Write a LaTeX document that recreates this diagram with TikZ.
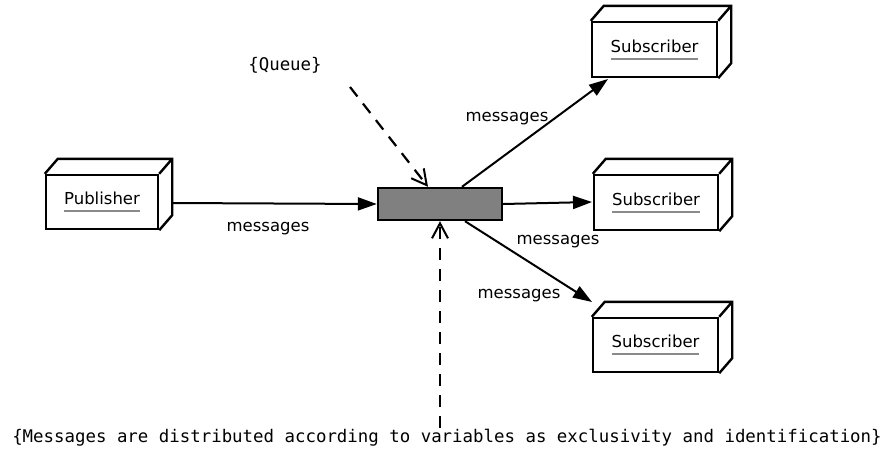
\documentclass[tikz,border=0pt]{standalone}
\usepackage{fontspec}
\setmainfont{DejaVu Sans}
\newfontfamily\monofont{DejaVu Sans Mono}
\usetikzlibrary{arrows.meta}
\definecolor{queuegray}{HTML}{808080}
\definecolor{ulgray}{HTML}{8A8A8A}
% text with a gray underline drawn below the baseline
\newcommand\grayul[1]{\setbox0\hbox{#1}\rlap{\color{ulgray}\rule[-7.5pt]{\wd0}{2pt}}\box0}
\tikzset{
  nodebox/.style={draw, line width=2.4pt, fill=white, inner sep=0pt,
    minimum width=124pt, minimum height=55pt,
    font=\fontsize{16.5}{20}\selectfont},
  queuebox/.style={draw, line width=2.4pt, fill=queuegray, inner sep=0pt,
    minimum width=124pt, minimum height=32pt},
  msg/.style={-{Triangle[length=19pt,width=13pt]}, line width=2pt},
  dep/.style={-{Straight Barb[length=15pt,width=16pt,line width=2pt]},
    line width=2.2pt, dash pattern=on 12pt off 9pt},
  lbl/.style={font=\fontsize{16.5}{20}\selectfont, inner sep=0pt},
  note/.style={font=\monofont\fontsize{17.4}{20}\selectfont, inner sep=0pt},
}
% draws the top and right faces of a box node
\newcommand\depthfaces[1]{%
  \draw[line width=2.4pt, line join=miter]
    (#1.north west) -- ++(13,-15) -- ([shift={(13,-15)}]#1.north east)
    -- ([shift={(13,-15)}]#1.south east) -- (#1.south east)
    (#1.north east) -- ++(13,-15);}
\begin{document}
\begin{tikzpicture}[x=1pt,y=-1pt]
\useasboundingbox (0,0) rectangle (883,458);

% nodes
\node[nodebox, minimum width=112pt, minimum height=54pt] (pub) at (102,202) {\grayul{Publisher}};
\node[nodebox, minimum width=125pt] (sub1) at (654.5,49.5) {\grayul{Subscriber}};
\node[nodebox] (sub2) at (656,202.5) {\grayul{Subscriber}};
\node[nodebox, minimum width=125pt, minimum height=54pt] (sub3) at (655.5,345) {\grayul{Subscriber}};
\depthfaces{pub}
\depthfaces{sub1}
\depthfaces{sub2}
\depthfaces{sub3}

\node[queuebox] (queue) at (440,204) {};

% message flows
\draw[msg] (pub.east -| 172,0) ++(0,1) coordinate (pubout) -- (queue.west);
\draw[msg] ([xshift=22pt]queue.north) -- (608,79) coordinate (s1in);
\draw[msg] (queue.east) -- (592,202) coordinate (s2in);
\draw[msg] ([xshift=25pt]queue.south) -- (592,302) coordinate (s3in);

\node[lbl] (l0) at (268,229) {messages};
\node[lbl] (l1) at (507,119) {messages};
\node[lbl] (l2) at (558,242) {messages};
\node[lbl] (l3) at (519,296) {messages};

% notes with dependency arrows
\node[note] (qnote) at (285,65) {\{Queue\}};
\coordinate (qfrom) at (350,87);
\draw[dep] (qfrom) -- ([xshift=-12pt]queue.north);

\node[note] (dnote) at (447,438) {\{Messages are distributed according to variables as exclusivity and identification\}};
\coordinate (dfrom) at (440,428);
\draw[dep] (dfrom) -- (queue.south);
\end{tikzpicture}
\end{document}
